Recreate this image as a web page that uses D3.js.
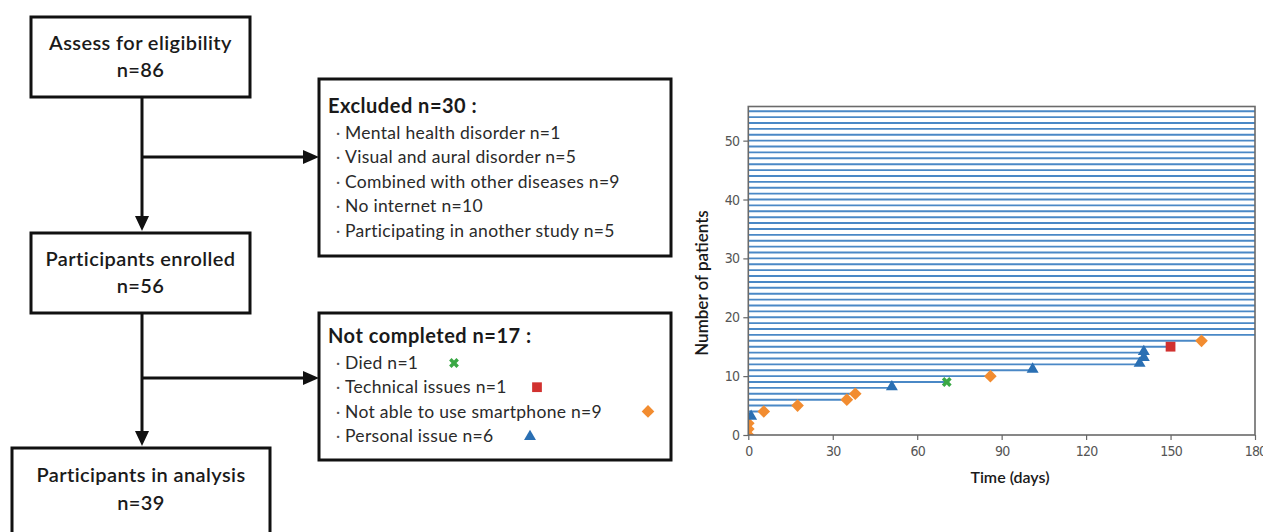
<!DOCTYPE html>
<html>
<head>
<meta charset="utf-8">
<script src="https://cdn.jsdelivr.net/npm/d3@7"></script>
<style>
  html, body { margin: 0; padding: 0; background: #fff; }
  svg { display: block; }
</style>
</head>
<body>
<svg id="chart" width="1263" height="532"></svg>
<script>
// ---------- DATA ----------
// Flowchart
const mainBoxLabels = ["Assess for eligibility", "Participants enrolled", "Participants in analysis"];
const mainBoxCounts = ["n=86", "n=56", "n=39"];
const excludedTitle = "Excluded n=30 :";
const excludedItems = [
  "Mental health disorder n=1",
  "Visual and aural disorder n=5",
  "Combined with other diseases n=9",
  "No internet n=10",
  "Participating in another study n=5"
];
const notCompletedTitle = "Not completed n=17 :";
const notCompletedItems = ["Died n=1", "Technical issues n=1", "Not able to use smartphone n=9", "Personal issue n=6"];
const notCompletedMarkers = ["x", "square", "diamond", "triangle"];

// Swimmer plot: 56 enrolled patients; first 17 dropped out
const totalPatients = 56;
const dropoutDays = [0, 0, 0, 1, 5.5, 17.5, 35, 38, 51, 70.5, 86, 101, 139, 140.5, 140.5, 150, 161];
const dropoutReasons = ["diamond", "diamond", "diamond", "triangle", "diamond", "diamond", "diamond", "diamond",
  "triangle", "x", "diamond", "triangle", "triangle", "triangle", "triangle", "square", "diamond"];
const followUpDays = 180;
const xTicks = [0, 30, 60, 90, 120, 150, 180];
const yTicks = [0, 10, 20, 30, 40, 50];

// ---------- STYLE ----------
const markerColor = { diamond: "#f28c30", triangle: "#2a6fb3", x: "#3aa845", square: "#d1312f" };
const lineColor = "#4a88c6";
const boxFont = "Lato, 'Noto Sans', sans-serif";

const svg = d3.select("#chart");

function markerPath(type) {
  if (type === "diamond") return d3.symbol(d3.symbolSquare, 80)();
  if (type === "triangle") return d3.symbol(d3.symbolTriangle, 62)();
  if (type === "square") return d3.symbol(d3.symbolSquare, 95)();
  return d3.symbol(d3.symbolCross, 60)();
}
function markerRotate(type) {
  return (type === "diamond" || type === "x") ? 45 : 0;
}
function drawMarker(g, type, cx, cy) {
  g.append("path")
    .attr("d", markerPath(type))
    .attr("transform", `translate(${cx},${cy}) rotate(${markerRotate(type)})`)
    .attr("fill", markerColor[type]);
}

// ---------- FLOWCHART ----------
const fc = svg.append("g");
const boxStroke = 3;
const mainBoxes = [
  { x: 31, y: 17, w: 219, h: 80, o1: 33, o2: 60 },
  { x: 31, y: 233, w: 219, h: 80, o1: 33, o2: 60 },
  { x: 12, y: 448, w: 258, h: 100, o1: 34, o2: 62 }
];
mainBoxes.forEach((b, i) => {
  fc.append("rect").attr("x", b.x).attr("y", b.y).attr("width", b.w).attr("height", b.h)
    .attr("fill", "#fff").attr("stroke", "#111").attr("stroke-width", boxStroke);
  fc.append("text").attr("x", b.x + b.w / 2).attr("y", b.y + b.o1)
    .attr("text-anchor", "middle").attr("font-family", boxFont).attr("font-size", 20)
    .attr("letter-spacing", "0.4px")
    .attr("font-weight", 600).attr("fill", "#1a1a1a").text(mainBoxLabels[i]);
  fc.append("text").attr("x", b.x + b.w / 2).attr("y", b.y + b.o2)
    .attr("text-anchor", "middle").attr("font-family", boxFont).attr("font-size", 20)
    .attr("letter-spacing", "0.4px")
    .attr("font-weight", 600).attr("fill", "#1a1a1a").text(mainBoxCounts[i]);
});

// arrows
const arrowCol = "#111";
function vArrow(x, y1, y2) {
  fc.append("line").attr("x1", x).attr("x2", x).attr("y1", y1).attr("y2", y2 - 12)
    .attr("stroke", arrowCol).attr("stroke-width", 3);
  fc.append("path").attr("d", `M${x - 7},${y2 - 15} L${x + 7},${y2 - 15} L${x},${y2} Z`).attr("fill", arrowCol);
}
function hArrow(x1, x2, y) {
  fc.append("line").attr("x1", x1).attr("x2", x2 - 12).attr("y1", y).attr("y2", y)
    .attr("stroke", arrowCol).attr("stroke-width", 3);
  fc.append("path").attr("d", `M${x2 - 16},${y - 7} L${x2 - 16},${y + 7} L${x2},${y} Z`).attr("fill", arrowCol);
}
vArrow(142, 97, 231);
hArrow(142, 319, 157);
vArrow(142, 313, 446);
hArrow(142, 319, 378);

function sideBox(x, y, w, h, title, titleOffset, firstOffset, items) {
  fc.append("rect").attr("x", x).attr("y", y).attr("width", w).attr("height", h)
    .attr("fill", "#fff").attr("stroke", "#111").attr("stroke-width", boxStroke);
  fc.append("text").attr("x", x + 9).attr("y", y + titleOffset)
    .attr("font-family", boxFont).attr("font-size", 20).attr("font-weight", 700)
    .attr("letter-spacing", "0.5px")
    .attr("fill", "#1a1a1a").text(title);
  items.forEach((t, i) => {
    const cy = y + firstOffset + i * 24.4;
    fc.append("text").attr("x", x + 17).attr("y", cy + 5)
      .attr("font-family", boxFont).attr("font-size", 16).attr("fill", "#555").text("·");
    fc.append("text").attr("x", x + 26).attr("y", cy + 6)
      .attr("font-family", boxFont).attr("font-size", 17.5).attr("letter-spacing", "0.3px")
      .attr("fill", "#2a2a2a").text(t);
  });
}
sideBox(319, 79, 352, 177, excludedTitle, 34, 54, excludedItems);
sideBox(319, 313, 352, 147, notCompletedTitle, 30, 50, notCompletedItems);
const legendX = [454, 537, 648, 530];
notCompletedMarkers.forEach((m, i) => {
  const g = fc.append("g");
  const cy = 313 + 50 + i * 24.2;
  drawMarker(g, m, legendX[i], cy + (m === "triangle" ? 1 : 0));
});

// ---------- SWIMMER PLOT ----------
const x = d3.scaleLinear().domain([0, followUpDays]).range([748.3, 1255]);
const y = d3.scaleLinear().domain([0, 55.8]).range([435, 106.5]);

const patients = d3.range(totalPatients).map(i => ({
  id: i,
  end: i < dropoutDays.length ? dropoutDays[i] : followUpDays + 5,
  reason: i < dropoutDays.length ? dropoutReasons[i] : null
}));

svg.append("defs").append("clipPath").attr("id", "plotclip")
  .append("rect").attr("x", x(0)).attr("y", y(55.8)).attr("width", x(180) - x(0)).attr("height", y(0) - y(55.8));

const plot = svg.append("g").attr("clip-path", "url(#plotclip)");
plot.selectAll("line.swim").data(patients).join("line")
  .attr("class", "swim")
  .attr("x1", x(0)).attr("x2", d => x(d.end))
  .attr("y1", d => y(d.id)).attr("y2", d => y(d.id))
  .attr("stroke", lineColor).attr("stroke-width", 1.9);

const mk = plot.append("g");
patients.filter(d => d.reason).forEach(d => {
  drawMarker(mk, d.reason, x(d.end), y(d.id) - (d.reason === "triangle" ? 1 : 0));
});

// frame
svg.append("rect").attr("x", x(0)).attr("y", y(55.8)).attr("width", x(180) - x(0)).attr("height", y(0) - y(55.8))
  .attr("fill", "none").attr("stroke", "#6a6a6a").attr("stroke-width", 1.6);

// axes
const axFont = "'DejaVu Sans Condensed', 'DejaVu Sans', sans-serif";
const xAxis = svg.append("g").attr("transform", `translate(0,${y(0)})`)
  .call(d3.axisBottom(x).tickValues(xTicks).tickSize(5).tickPadding(6).tickFormat(d3.format("d")));
const yAxis = svg.append("g").attr("transform", `translate(${x(0)},0)`)
  .call(d3.axisLeft(y).tickValues(yTicks).tickSize(5).tickPadding(4).tickFormat(d3.format("d")));
[xAxis, yAxis].forEach(a => {
  a.select(".domain").remove();
  a.selectAll(".tick line").attr("stroke", "#666").attr("stroke-width", 1.2);
  a.selectAll(".tick text").attr("fill", "#555").attr("font-family", axFont).attr("font-size", 14)
    .attr("letter-spacing", "-0.8px");
});

svg.append("text").attr("x", 1010).attr("y", 483)
  .attr("text-anchor", "middle").attr("font-family", boxFont).attr("font-size", 16).attr("font-weight", 600)
  .attr("fill", "#1a1a1a").text("Time (days)");
svg.append("text").attr("transform", `translate(708,283) rotate(-90)`)
  .attr("text-anchor", "middle").attr("font-family", boxFont).attr("font-size", 17).attr("font-weight", 600)
  .attr("fill", "#1a1a1a").text("Number of patients");
</script>
</body>
</html>
